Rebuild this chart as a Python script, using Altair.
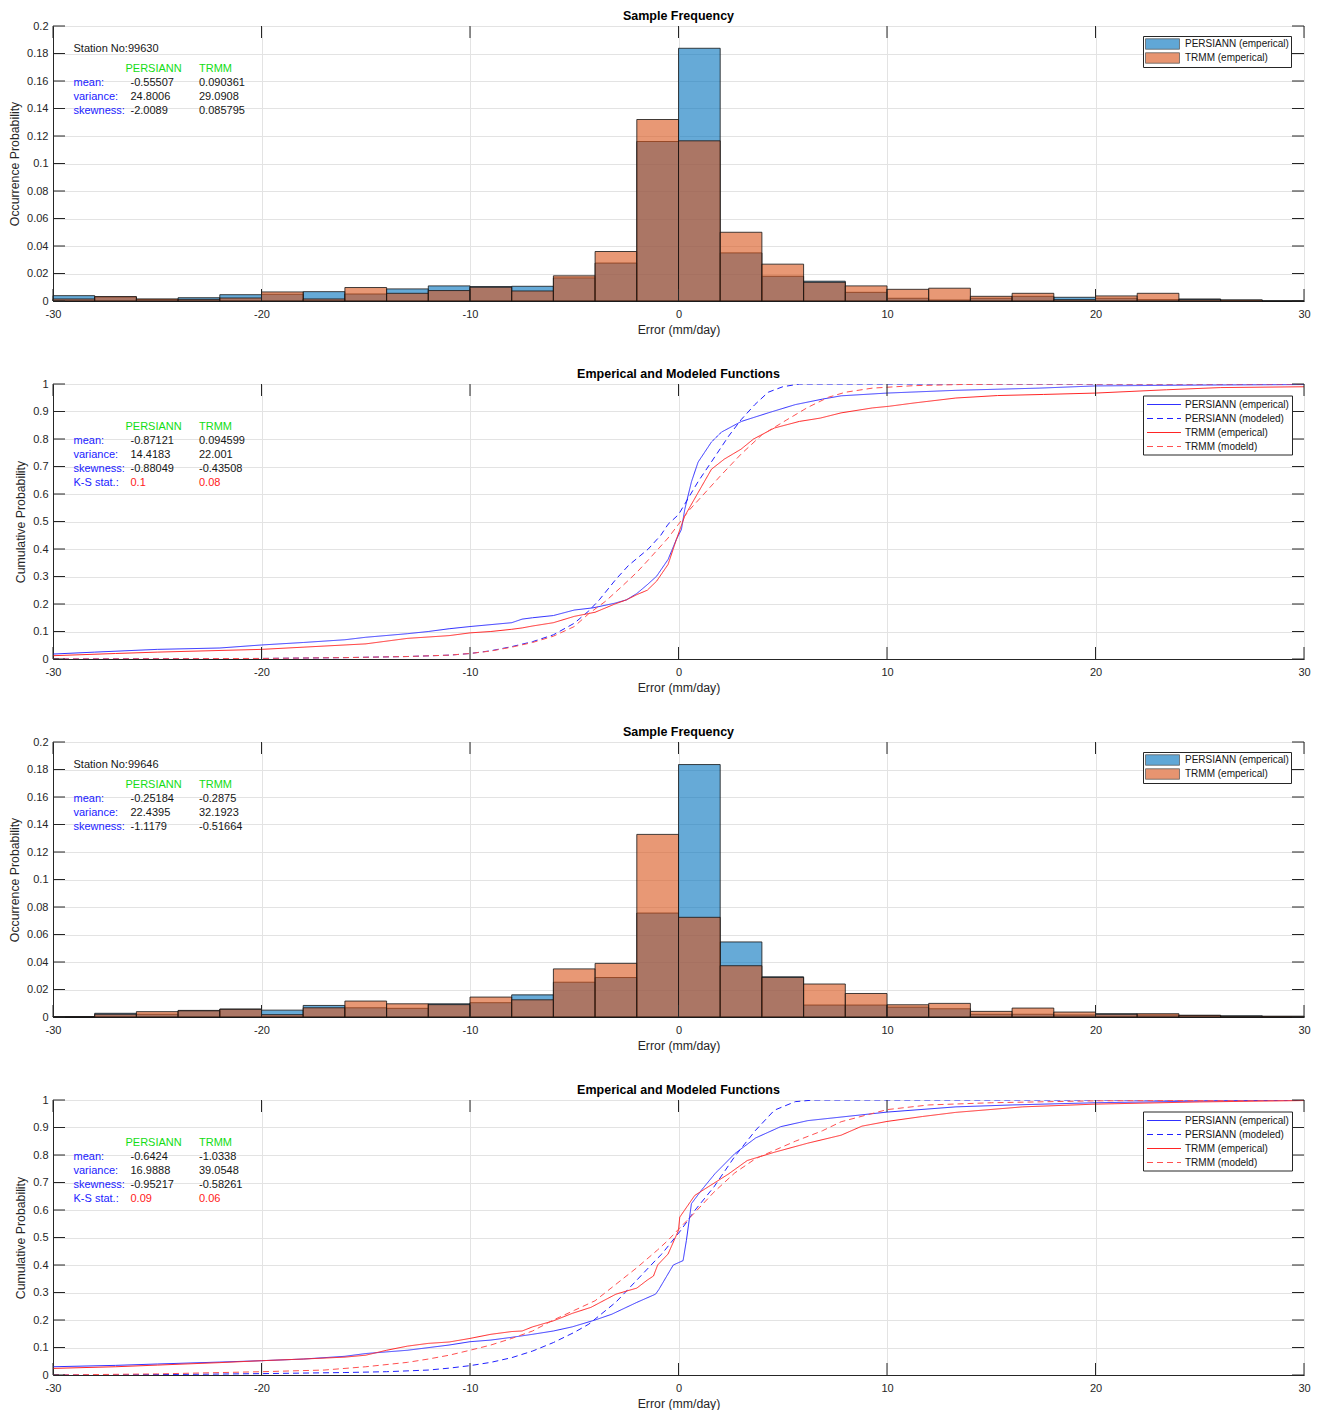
import altair as alt
import pandas as pd

# ---------------- data ----------------
bin_lo = [-30, -28, -26, -24, -22, -20, -18, -16, -14, -12, -10, -8, -6, -4, -2,
          0, 2, 4, 6, 8, 10, 12, 14, 16, 18, 20, 22, 24, 26, 28]
bin_width = 2

x_ticks = [-30, -20, -10, 0, 10, 20, 30]
hist_ticks = [0, 0.02, 0.04, 0.06, 0.08, 0.1, 0.12, 0.14, 0.16, 0.18, 0.2]
cdf_ticks = [0, 0.1, 0.2, 0.3, 0.4, 0.5, 0.6, 0.7, 0.8, 0.9, 1]

hist_series = ["PERSIANN (emperical)", "TRMM (emperical)"]
cdf_series = ["PERSIANN (emperical)", "PERSIANN (modeled)", "TRMM (emperical)", "TRMM (modeld)"]

stations = ["99630", "99646"]
stat_rows = ["mean:", "variance:", "skewness:"]

# occurrence probability per 2 mm/day bin
freq_persiann_99630 = [0.0039, 0.0030, 0.0012, 0.0024, 0.0046, 0.0049, 0.0068, 0.0051, 0.0088, 0.0110,
                       0.0105, 0.0107, 0.0168, 0.0276, 0.1160, 0.1838, 0.0350, 0.0180, 0.0144, 0.0063,
                       0.0020, 0.0007, 0.0020, 0.0034, 0.0027, 0.0020, 0.0010, 0.0015, 0.0006, 0.0]
freq_trmm_99630 = [0.0015, 0.0032, 0.0015, 0.0012, 0.0022, 0.0066, 0.0015, 0.0098, 0.0056, 0.0076,
                   0.0100, 0.0073, 0.0183, 0.0360, 0.1320, 0.1165, 0.0500, 0.0268, 0.0136, 0.0110,
                   0.0085, 0.0093, 0.0034, 0.0056, 0.0010, 0.0037, 0.0056, 0.0010, 0.0008, 0.0]
freq_persiann_99646 = [0.0003, 0.0027, 0.0020, 0.0048, 0.0058, 0.0050, 0.0084, 0.0067, 0.0063, 0.0096,
                       0.0104, 0.0161, 0.0253, 0.0287, 0.0756, 0.1836, 0.0546, 0.0292, 0.0087, 0.0087,
                       0.0072, 0.0060, 0.0020, 0.0020, 0.0015, 0.0024, 0.0015, 0.0012, 0.0009, 0.0005]
freq_trmm_99646 = [0.0002, 0.0020, 0.0039, 0.0045, 0.0056, 0.0017, 0.0067, 0.0116, 0.0096, 0.0090,
                   0.0145, 0.0125, 0.0350, 0.0390, 0.1328, 0.0725, 0.0373, 0.0288, 0.0240, 0.0171,
                   0.0089, 0.0099, 0.0041, 0.0065, 0.0036, 0.0020, 0.0024, 0.0012, 0.0005, 0.0005]

hist_stats_99630_persiann = ["-0.55507", "24.8006", "-2.0089"]
hist_stats_99630_trmm = ["0.090361", "29.0908", "0.085795"]
hist_stats_99646_persiann = ["-0.25184", "22.4395", "-1.1179"]
hist_stats_99646_trmm = ["-0.2875", "32.1923", "-0.51664"]

cdf_stats_99630_persiann = ["-0.87121", "14.4183", "-0.88049"]
cdf_stats_99630_trmm = ["0.094599", "22.001", "-0.43508"]
ks_99630 = ["0.1", "0.08"]
cdf_stats_99646_persiann = ["-0.6424", "16.9888", "-0.95217"]
cdf_stats_99646_trmm = ["-1.0338", "39.0548", "-0.58261"]
ks_99646 = ["0.09", "0.06"]

# cumulative probability curves, station 99630
cdf1_pe_x = [-30, -28, -25, -22, -20, -18, -16, -15, -13, -12, -11, -10, -9, -8, -7.5, -7, -6, -5, -4.1,
             -3.05, -2.5, -2, -1.5, -1.05, -0.5, -0.1, 0.14, 0.3, 0.62, 0.94, 1.58, 2.06, 3.02, 4.3, 5.6,
             6.9, 7.8, 10, 13.3, 17.3, 20, 25, 30]
cdf1_pe_y = [0.018, 0.025, 0.035, 0.04, 0.051, 0.06, 0.07, 0.079, 0.092, 0.1, 0.11, 0.118, 0.125, 0.132,
             0.145, 0.15, 0.158, 0.178, 0.186, 0.203, 0.215, 0.238, 0.27, 0.301, 0.362, 0.435, 0.471, 0.544,
             0.644, 0.716, 0.789, 0.825, 0.864, 0.895, 0.925, 0.945, 0.957, 0.967, 0.977, 0.985, 0.993,
             0.996, 0.998]
cdf1_pm_x = [-30, -20, -16, -13, -11, -10, -9, -8, -7, -6, -5, -4.3, -3.8, -3, -2.4, -1.45, -0.85, -0.5,
             0, 0.94, 1.74, 2.4, 3, 3.66, 4.3, 5, 5.8, 30]
cdf1_pm_y = [0, 0.002, 0.005, 0.009, 0.014, 0.02, 0.03, 0.045, 0.063, 0.088, 0.13, 0.175, 0.215, 0.29,
             0.34, 0.4, 0.45, 0.49, 0.525, 0.645, 0.735, 0.81, 0.87, 0.925, 0.97, 0.99, 1.0, 1.0]
cdf1_te_x = [-30, -27, -25, -20, -17, -15, -14, -13, -11, -10, -9, -8, -7.5, -7, -6, -5, -4, -3.05, -2.5,
             -2, -1.5, -1.05, -0.5, -0.1, 0.3, 0.94, 1.58, 2.2, 3.0, 3.6, 4.6, 5.8, 6.8, 7.8, 9.3, 10.1,
             11.3, 13.3, 15.3, 17.5, 20, 23.4, 26, 30]
cdf1_te_y = [0.012, 0.02, 0.025, 0.035, 0.047, 0.055, 0.065, 0.075, 0.085, 0.095, 0.1, 0.108, 0.113, 0.12,
             0.132, 0.155, 0.17, 0.2, 0.215, 0.234, 0.25, 0.283, 0.344, 0.435, 0.52, 0.605, 0.69, 0.727,
             0.763, 0.8, 0.84, 0.864, 0.876, 0.895, 0.913, 0.919, 0.931, 0.949, 0.958, 0.962, 0.967,
             0.979, 0.987, 0.99]
cdf1_tm_x = [-30, -20, -16, -13, -11, -10, -9, -8, -7, -6, -5, -4.3, -3.5, -2.7, -2, -1.45, -0.5, 0, 0.5,
             1.1, 2, 3, 4, 5.2, 6.2, 7.2, 8, 9.3, 11.3, 13.5, 16, 30]
cdf1_tm_y = [0, 0.002, 0.005, 0.009, 0.014, 0.02, 0.029, 0.043, 0.06, 0.083, 0.118, 0.165, 0.21, 0.265,
             0.315, 0.36, 0.44, 0.49, 0.54, 0.59, 0.665, 0.745, 0.815, 0.87, 0.915, 0.952, 0.97, 0.985,
             0.994, 0.998, 1.0, 1.0]

# cumulative probability curves, station 99646
cdf2_pe_x = [-30, -27, -25, -22, -20, -18, -16, -15, -13, -11, -10, -9, -8, -7, -6, -5.1, -4, -3.2, -2,
             -1.1, -0.95, -0.25, 0.22, 0.38, 0.62, 1.1, 1.75, 2.7, 3.7, 4.9, 6.2, 7.8, 10, 13.3, 16, 20,
             25, 30]
cdf2_pe_y = [0.03, 0.035, 0.04, 0.047, 0.052, 0.058, 0.068, 0.078, 0.09, 0.109, 0.121, 0.127, 0.137,
             0.148, 0.16, 0.175, 0.2, 0.221, 0.264, 0.294, 0.31, 0.4, 0.416, 0.49, 0.623, 0.672, 0.732,
             0.805, 0.862, 0.903, 0.925, 0.938, 0.956, 0.975, 0.982, 0.99, 0.996, 1.0]
cdf2_pm_x = [-30, -24, -20, -16, -14, -12, -11, -10, -9, -8, -7, -6, -5, -4.3, -3, -2, -1, -0.8, 0.1,
             0.8, 1.7, 2.7, 3.7, 4.6, 5.6, 6.5, 30]
cdf2_pm_y = [0, 0.002, 0.005, 0.009, 0.012, 0.018, 0.025, 0.034, 0.046, 0.063, 0.087, 0.118, 0.155,
             0.185, 0.265, 0.345, 0.425, 0.44, 0.525, 0.6, 0.684, 0.795, 0.89, 0.963, 0.994, 1.0, 1.0]
cdf2_te_x = [-30, -27, -25, -22, -20, -18, -16, -15, -14, -13, -12, -11, -10, -9, -8, -7.5, -7, -6, -5.1,
             -4.2, -3, -2, -1.5, -1.2, -1.0, -0.5, 0, 0.06, 0.78, 1.42, 2.38, 3.3, 4.6, 6.2, 7.8, 8.8, 10,
             11.7, 13.3, 16.5, 20, 25, 30]
cdf2_te_y = [0.024, 0.03, 0.036, 0.045, 0.052, 0.058, 0.065, 0.072, 0.09, 0.105, 0.115, 0.12, 0.133,
             0.148, 0.158, 0.16, 0.175, 0.197, 0.224, 0.246, 0.294, 0.316, 0.345, 0.36, 0.4, 0.44, 0.526,
             0.574, 0.653, 0.684, 0.73, 0.78, 0.81, 0.843, 0.872, 0.905, 0.922, 0.94, 0.955, 0.975, 0.985,
             0.993, 0.998]
cdf2_tm_x = [-30, -25, -20, -17, -15, -13, -12, -11, -10, -9, -8, -7, -6, -5, -4, -3, -2, -1, -0.5, 0,
             0.8, 1.7, 2.7, 3.7, 4.6, 5.6, 6.9, 7.8, 9, 10, 12, 15, 20, 30]
cdf2_tm_y = [0, 0.004, 0.012, 0.018, 0.03, 0.046, 0.058, 0.072, 0.09, 0.109, 0.133, 0.16, 0.2, 0.235,
             0.27, 0.33, 0.39, 0.455, 0.49, 0.53, 0.592, 0.665, 0.735, 0.787, 0.817, 0.85, 0.888, 0.921,
             0.945, 0.965, 0.982, 0.99, 0.997, 1.0]

# ---------------- styling ----------------
W, H = 1251, 275
TICK_LEN = 12
FONT = "Liberation Sans"
AX = "#262626"
GRID = "#e3e3e3"
BLUE_TXT = "#1a1aff"
GREEN_TXT = "#14dc14"
RED_TXT = "#ff2020"
BLACK_TXT = "#161616"

x_scale = alt.Scale(domain=[-30, 30], nice=False, zero=False)
hist_y_scale = alt.Scale(domain=[0, 0.2], nice=False, zero=False)
cdf_y_scale = alt.Scale(domain=[0, 1], nice=False, zero=False)

AXIS_STYLE = dict(
    grid=True, gridColor=GRID, gridWidth=1, ticks=False,
    domainColor=AX, domainWidth=1,
    labelColor=AX, labelFont=FONT, labelFontSize=11, labelFlush=False, labelOverlap=False,
    labelExpr="'' + datum.value",
    titleColor=AX, titleFont=FONT, titleFontSize=12.3, titleFontWeight="normal",
)


def x_axis():
    return alt.Axis(values=x_ticks, title="Error (mm/day)", labelPadding=7, titlePadding=4, **AXIS_STYLE)


def y_axis(ticks, title):
    return alt.Axis(values=ticks, title=title, labelPadding=5, titlePadding=5, **AXIS_STYLE)


def legend_style(**extra):
    return dict(
        title=None, orient="none", legendX=1090,
        fillColor="white", strokeColor=AX, cornerRadius=0,
        labelFont=FONT, labelFontSize=10, labelColor=BLACK_TXT,
        **extra,
    )


def text_layer(txt, x, y, color):
    return alt.Chart(pd.DataFrame({"t": [txt]})).mark_text(
        align="left", baseline="alphabetic", font=FONT, fontSize=11, color=color,
        lineBreak="\n", lineHeight=14,
    ).encode(x=alt.value(x), y=alt.value(y), text="t:N")


def stats_layers(p_vals, t_vals, station=None, ks=None):
    layers = []
    if station is not None:
        layers.append(text_layer("Station No:" + station, 20.5, 26, BLACK_TXT))
    layers.append(text_layer("PERSIANN", 72.5, 46, GREEN_TXT))
    layers.append(text_layer("TRMM", 146, 46, GREEN_TXT))
    layers.append(text_layer("\n".join(stat_rows), 20.5, 60, BLUE_TXT))
    layers.append(text_layer("\n".join(p_vals), 77.5, 60, BLACK_TXT))
    layers.append(text_layer("\n".join(t_vals), 146, 60, BLACK_TXT))
    if ks is not None:
        layers.append(text_layer("K-S stat.:", 20.5, 102, BLUE_TXT))
        layers.append(text_layer(ks[0], 77.5, 102, RED_TXT))
        layers.append(text_layer(ks[1], 146, 102, RED_TXT))
    return layers


def tick_layers(y_ticks, y_scale, y_title):
    # inward-pointing tick marks on all four sides of the box
    xt = pd.DataFrame({"v": x_ticks})
    yt = pd.DataFrame({"v": y_ticks})
    xenc = alt.X("v:Q", scale=x_scale, axis=x_axis())
    yenc = alt.Y("v:Q", scale=y_scale, axis=y_axis(y_ticks, y_title))
    rule = dict(color=AX, strokeWidth=1)
    return [
        alt.Chart(xt).mark_rule(**rule).encode(x=xenc, y=alt.value(H), y2=alt.value(H - TICK_LEN)),
        alt.Chart(xt).mark_rule(**rule).encode(x=xenc, y=alt.value(0), y2=alt.value(TICK_LEN)),
        alt.Chart(yt).mark_rule(**rule).encode(y=yenc, x=alt.value(0), x2=alt.value(TICK_LEN)),
        alt.Chart(yt).mark_rule(**rule).encode(y=yenc, x=alt.value(W), x2=alt.value(W - TICK_LEN)),
    ]


def title(text):
    return alt.TitleParams(text, font=FONT, fontSize=12.5, fontWeight="bold", color="#000000",
                           anchor="middle", offset=-2)


def hist_panel(p_vals, t_vals, station, p_stats, t_stats):
    rows = []
    for name, vals in ((hist_series[0], p_vals), (hist_series[1], t_vals)):
        for lo, v in zip(bin_lo, vals):
            rows.append({"series": name, "lo": lo, "hi": lo + bin_width, "p": v})
    df = pd.DataFrame(rows)
    y_title = "Occurrence Probability"
    bars = alt.Chart(df).mark_rect(fillOpacity=0.6, stroke="#141414", strokeWidth=0.8).encode(
        x=alt.X("lo:Q", scale=x_scale, axis=x_axis()),
        x2="hi:Q",
        y=alt.Y("p:Q", scale=hist_y_scale, axis=y_axis(hist_ticks, y_title)),
        y2=alt.datum(0),
        fill=alt.Fill("series:N",
                      scale=alt.Scale(domain=hist_series, range=["#0072BD", "#D95319"]),
                      legend=alt.Legend(**legend_style(
                          legendY=10, symbolType="M-1,-0.95H5.18V0.95H-1Z", symbolSize=121,
                          symbolStrokeColor="#000000", symbolStrokeWidth=0.8, symbolOpacity=0.62,
                          padding=2, rowPadding=0, labelOffset=28))),
    )
    layers = [bars] + tick_layers(hist_ticks, hist_y_scale, y_title) + stats_layers(
        p_stats, t_stats, station=station)
    return alt.layer(*layers).properties(width=W, height=H, title=title("Sample Frequency"))


def cdf_panel(curves, p_stats, t_stats, ks):
    rows = []
    for name, xs, ys in curves:
        assert len(xs) == len(ys), name
        for i, (a, b) in enumerate(zip(xs, ys)):
            rows.append({"series": name, "x": a, "y": b, "i": i})
    df = pd.DataFrame(rows)
    y_title = "Cumulative Probability"
    leg = legend_style(legendY=11.5, symbolType="M-1,0H5.8", symbolSize=100, symbolStrokeWidth=1.1,
                       padding=3, rowPadding=3, labelOffset=27)
    lines = alt.Chart(df).mark_line(strokeWidth=1, clip=True).encode(
        x=alt.X("x:Q", scale=x_scale, axis=x_axis()),
        y=alt.Y("y:Q", scale=cdf_y_scale, axis=y_axis(cdf_ticks, y_title)),
        color=alt.Color("series:N",
                        scale=alt.Scale(domain=cdf_series,
                                        range=["#3030ff", "#2020ff", "#ff2424", "#ff5050"]),
                        legend=alt.Legend(**leg)),
        strokeDash=alt.StrokeDash("series:N",
                                  scale=alt.Scale(domain=cdf_series,
                                                  range=[[1, 0], [6, 4], [1, 0], [6, 4]]),
                                  legend=alt.Legend(**leg)),
        order="i:Q",
    )
    layers = [lines] + tick_layers(cdf_ticks, cdf_y_scale, y_title) + stats_layers(p_stats, t_stats, ks=ks)
    return alt.layer(*layers).properties(width=W, height=H, title=title("Emperical and Modeled Functions"))


panel1 = hist_panel(freq_persiann_99630, freq_trmm_99630, stations[0],
                    hist_stats_99630_persiann, hist_stats_99630_trmm)
panel2 = cdf_panel([(cdf_series[0], cdf1_pe_x, cdf1_pe_y), (cdf_series[1], cdf1_pm_x, cdf1_pm_y),
                    (cdf_series[2], cdf1_te_x, cdf1_te_y), (cdf_series[3], cdf1_tm_x, cdf1_tm_y)],
                   cdf_stats_99630_persiann, cdf_stats_99630_trmm, ks_99630)
panel3 = hist_panel(freq_persiann_99646, freq_trmm_99646, stations[1],
                    hist_stats_99646_persiann, hist_stats_99646_trmm)
panel4 = cdf_panel([(cdf_series[0], cdf2_pe_x, cdf2_pe_y), (cdf_series[1], cdf2_pm_x, cdf2_pm_y),
                    (cdf_series[2], cdf2_te_x, cdf2_te_y), (cdf_series[3], cdf2_tm_x, cdf2_tm_y)],
                   cdf_stats_99646_persiann, cdf_stats_99646_trmm, ks_99646)

chart = alt.vconcat(panel1, panel2, panel3, panel4, spacing=31).resolve_scale(
    x="independent", y="independent", fill="independent", color="independent", strokeDash="independent"
).resolve_legend(fill="independent", color="independent", strokeDash="independent").properties(
    padding={"left": 8, "top": 9, "right": 5, "bottom": 0}, background="white"
).configure_view(stroke="#4a4a4a", strokeWidth=1)

chart.save("out.html", embed_options={"renderer": "svg", "actions": False})
